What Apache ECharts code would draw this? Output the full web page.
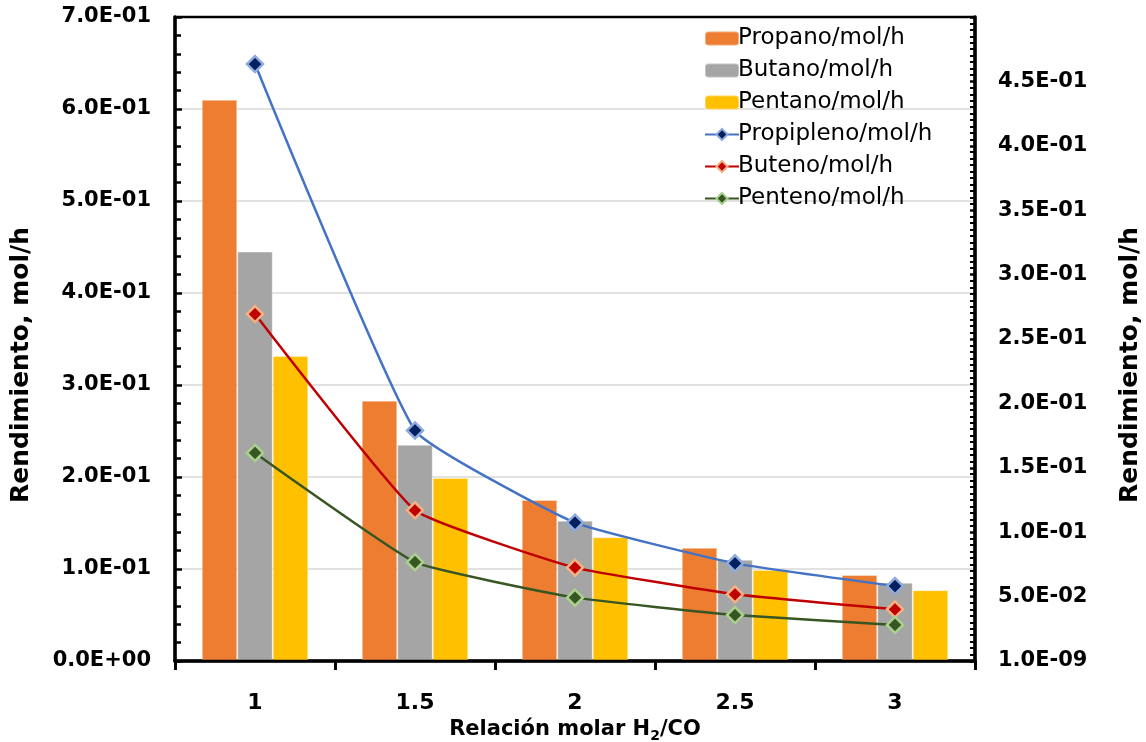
<!DOCTYPE html>
<html>
<head>
<meta charset="utf-8">
<script src="https://cdn.jsdelivr.net/npm/echarts@6/dist/echarts.min.js"></script>
<style>
  html, body { margin: 0; padding: 0; background: #ffffff; }
  #chart { width: 1146px; height: 742px; }
</style>
</head>
<body>
<div id="chart"></div>
<script>
// Relación molar H2/CO (categorías del eje X)
const categories = ['1', '1.5', '2', '2.5', '3'];

// Parafinas, mol/h (eje primario, barras)
const propano = [0.610, 0.283, 0.175, 0.123, 0.0935];
const butano  = [0.445, 0.235, 0.1525, 0.110, 0.085];
const pentano = [0.3315, 0.199, 0.1345, 0.099, 0.077];

// Olefinas, mol/h (eje secundario, líneas)
const propileno = [0.4635, 0.179, 0.1074, 0.0758, 0.0582];
const buteno    = [0.2694, 0.117, 0.0725, 0.0518, 0.0401];
const penteno   = [0.1615, 0.0767, 0.0492, 0.0357, 0.028];

// Etiqueta del mínimo del eje secundario
const rightAxisMinLabel = '1.0E-09';

const FONT = 'DejaVu Sans';

// Formato científico tipo "7.0E-01"
function sci(v) {
  const s = Number(v).toExponential(1);
  const parts = s.split('e');
  const exp = parseInt(parts[1], 10);
  const sign = exp < 0 ? '-' : '+';
  const mag = Math.abs(exp);
  return parts[0] + 'E' + sign + (mag < 10 ? '0' + mag : String(mag));
}

const chart = echarts.init(document.getElementById('chart'), null, { renderer: 'canvas' });

const barBase = {
  type: 'bar',
  yAxisIndex: 0,
  barWidth: 35.5,
  barGap: '0%'
};

function lineSeries(name, data, lineColor, fill, border) {
  return {
    name: name,
    type: 'line',
    yAxisIndex: 1,
    data: data,
    smooth: 0.12,
    symbol: 'diamond',
    symbolSize: 16,
    z: 5,
    lineStyle: { color: lineColor, width: 2.5 },
    itemStyle: { color: fill, borderColor: border, borderWidth: 2.5 }
  };
}

// Título de eje vertical (desplazado hacia abajo)
const yNameStyle = {
  fontFamily: FONT, fontSize: 25, fontWeight: 'bold', color: '#000000',
  padding: [0, 52, 0, 0]
};

const option = {
  backgroundColor: '#ffffff',
  animation: false,
  textStyle: { fontFamily: FONT },
  grid: {
    left: 175, right: 171, top: 17, bottom: 81,
    show: true, borderColor: '#000000', borderWidth: 2.5,
    containLabel: false,
    outerBoundsMode: 'none',
    z: 3
  },
  legend: {
    orient: 'vertical',
    left: 699,
    top: 22,
    itemWidth: 34,
    itemHeight: 14,
    itemGap: 9,
    textStyle: { fontFamily: FONT, fontSize: 23, color: '#000000', padding: [0, 0, 0, -6] },
    data: ['Propano/mol/h', 'Butano/mol/h', 'Pentano/mol/h', 'Propipleno/mol/h', 'Buteno/mol/h', 'Penteno/mol/h']
  },
  xAxis: {
    type: 'category',
    data: categories,
    boundaryGap: true,
    name: 'Relación molar H{sub|2}/CO',
    nameLocation: 'middle',
    nameGap: 53,
    nameTextStyle: {
      fontFamily: FONT, fontSize: 21, fontWeight: 'bold', color: '#000000',
      rich: {
        sub: { fontFamily: FONT, fontSize: 14, fontWeight: 'bold', color: '#000000', verticalAlign: 'bottom', lineHeight: 27 }
      }
    },
    axisLine: { lineStyle: { color: '#000000', width: 3.5 } },
    axisTick: { show: true, alignWithLabel: false, length: 9, lineStyle: { color: '#000000', width: 3 } },
    axisLabel: { fontFamily: FONT, fontSize: 22, fontWeight: 'bold', color: '#000000', margin: 31 },
    splitLine: { show: false }
  },
  yAxis: [
    {
      type: 'value',
      min: 0, max: 0.7, interval: 0.1,
      position: 'left',
      name: 'Rendimiento, mol/h',
      nameLocation: 'middle',
      nameGap: 141,
      nameRotate: 90,
      nameTextStyle: yNameStyle,
      axisLine: { show: true, lineStyle: { color: '#000000', width: 3.5 } },
      axisTick: { show: true, inside: true, length: 7, lineStyle: { color: '#000000', width: 2.5 } },
      minorTick: { show: true, splitNumber: 5, length: 6, lineStyle: { color: '#000000', width: 2.5 } },
      axisLabel: { fontFamily: FONT, fontSize: 21, fontWeight: 'bold', color: '#000000', margin: 24, formatter: sci },
      splitLine: { show: true, showMinLine: false, showMaxLine: false, lineStyle: { color: '#d9d9d9', width: 1.5 } }
    },
    {
      type: 'value',
      min: 0, max: 0.5, interval: 0.05,
      position: 'right',
      name: 'Rendimiento, mol/h',
      nameLocation: 'middle',
      nameGap: 143,
      nameRotate: 90,
      nameTextStyle: yNameStyle,
      axisLine: { show: true, lineStyle: { color: '#000000', width: 3.5 } },
      axisTick: { show: true, inside: true, length: 5, lineStyle: { color: '#000000', width: 2.5 } },
      minorTick: { show: true, splitNumber: 10, length: 5, lineStyle: { color: '#000000', width: 2 } },
      axisLabel: {
        fontFamily: FONT, fontSize: 21, fontWeight: 'bold', color: '#000000', margin: 23,
        showMaxLabel: false,
        formatter: function (v) { return v === 0 ? rightAxisMinLabel : sci(v); }
      },
      splitLine: { show: false }
    }
  ],
  series: [
    Object.assign({}, barBase, { name: 'Propano/mol/h', data: propano, itemStyle: { color: '#ED7D31', borderColor: 'rgba(255,255,255,0.35)', borderWidth: 1 } }),
    Object.assign({}, barBase, { name: 'Butano/mol/h', data: butano, itemStyle: { color: '#A5A5A5', borderColor: 'rgba(255,255,255,0.35)', borderWidth: 1 } }),
    Object.assign({}, barBase, { name: 'Pentano/mol/h', data: pentano, itemStyle: { color: '#FFC000', borderColor: 'rgba(255,255,255,0.35)', borderWidth: 1 } }),
    lineSeries('Propipleno/mol/h', propileno, '#4472C4', '#002060', '#8FAADC'),
    lineSeries('Buteno/mol/h', buteno, '#C00000', '#C00000', '#F4B183'),
    lineSeries('Penteno/mol/h', penteno, '#375623', '#375623', '#A9D18E')
  ]
};

chart.setOption(option);
</script>
</body>
</html>
